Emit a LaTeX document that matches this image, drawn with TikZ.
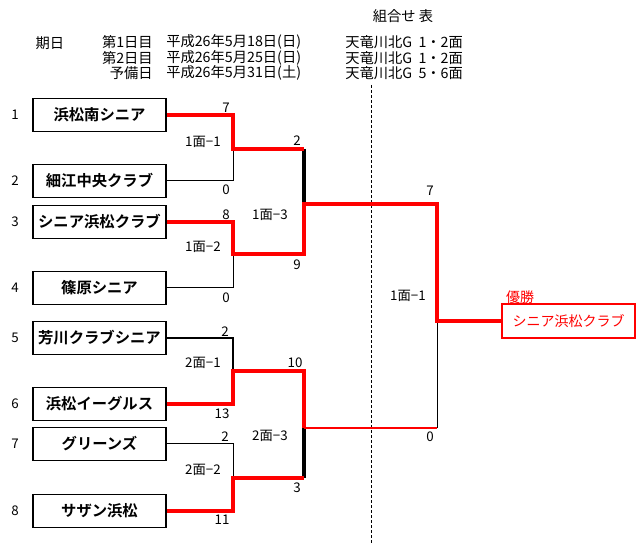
\documentclass[tikz,border=0pt]{standalone}
\usepackage{fontspec}
\setmainfont{Noto Sans CJK JP}[BoldFont={Noto Sans CJK JP Bold}]
\begin{document}
\begin{tikzpicture}[x=0.75pt,y=-0.75pt,
  team/.style={draw=black,line width=1.1pt,minimum width=99.75pt,minimum height=24.75pt,inner sep=0pt,font=\fontsize{11.5}{13}\selectfont\bfseries},
  champ/.style={draw=red,line width=1.1pt,minimum width=99.75pt,minimum height=25.5pt,inner sep=0pt,text=red,font=\fontsize{10.5}{12}\selectfont},
  lbl/.style={inner sep=0pt,font=\fontsize{10}{12}\selectfont},
  hdr/.style={inner sep=0pt,font=\fontsize{10.7}{12}\selectfont},
  win/.style={draw=red,line width=2.3pt},
  thin/.style={draw=black,line width=0.75pt},
  thk/.style={draw=black,line width=2.3pt}
]
\useasboundingbox (0,0) rectangle (636,545);
% header
\node[hdr] (title) at (403,16) {組合せ 表};
\node[hdr] (kijitsu) at (50,43) {期日};
\node[hdr,anchor=east] (d1) at (153,42) {第1日目};
\node[hdr,anchor=east] (d2) at (153,58) {第2日目};
\node[hdr,anchor=east] (d3) at (153,73) {予備日};
\node[hdr,anchor=west] (e1) at (166,42) {平成26年5月18日(日)};
\node[hdr,anchor=west] (e2) at (166,58) {平成26年5月25日(日)};
\node[hdr,anchor=west] (e3) at (166,73) {平成26年5月31日(土)};
\node[hdr,anchor=west] (p1) at (345,42) {天竜川北G\ \ 1・2面};
\node[hdr,anchor=west] (p2) at (345,58) {天竜川北G\ \ 1・2面};
\node[hdr,anchor=west] (p3) at (345,73) {天竜川北G\ \ 5・6面};
% dashed line
\coordinate (dtop) at (371,85);
\coordinate (dbot) at (371,545);
\draw[line width=0.75pt,dash pattern=on 2.25pt off 1.5pt] (dtop) -- (dbot);
% seeds
\foreach \n/\y in {1/115,2/181,3/222,4/288,5/338,6/404,7/444,8/511}
  \node[lbl] (s\n) at (15,\y) {\n};
% teams
\node[team] (t1) at (99.5,115) {浜松南シニア};
\node[team] (t2) at (99.5,181) {細江中央クラブ};
\node[team] (t3) at (99.5,222) {シニア浜松クラブ};
\node[team] (t4) at (99.5,288) {篠原シニア};
\node[team] (t5) at (99.5,338) {芳川クラブシニア};
\node[team] (t6) at (99.5,404) {浜松イーグルス};
\node[team] (t7) at (99.5,444) {グリーンズ};
\node[team] (t8) at (99.5,511) {サザン浜松};
\node[champ] (ch) at (568.5,321) {シニア浜松クラブ};
\node[inner sep=0pt,text=red,font=\fontsize{10.5}{12}\selectfont] (yusho) at (520,297) {優勝};
% junction coordinates
\coordinate (a1) at (233,149);
\coordinate (a2) at (233,254);
\coordinate (a3) at (233,371);
\coordinate (a4) at (233,478);
\coordinate (b1) at (304,149);
\coordinate (b1m) at (304,204);
\coordinate (b2) at (304,254);
\coordinate (b3) at (304,371);
\coordinate (b3m) at (304,428);
\coordinate (b4) at (304,478);
\coordinate (c1) at (437,204);
\coordinate (c2) at (437,428);
\coordinate (cm) at (437,321);
% losers (black)
\draw[thin] (t2.east) -| (a1);
\draw[thin] (t4.east) -| (a2);
\draw[draw=black,line width=1.5pt] (t5.east) -| (a3);
\draw[thin] (t7.east) -| (a4);
\draw[thk] (b1) -- (b1m);
\draw[thk] (b3m) -- (b4);
\draw[thin] (cm) -- (c2);
% winners (red)
\draw[win] (t1.east) -| (a1) -- (b1);
\draw[win] (t3.east) -| (a2) -- (b2) -- (b1m) -- (c1) -- (cm) -- (ch.west);
\draw[win] (t6.east) -| (a3) -- (b3) -- (b3m);
\draw[draw=red,line width=1.5pt] (b3m) -- (c2);
\draw[win] (t8.east) -| (a4) -- (b4);
% scores and match labels
\node[lbl] (k1) at (226,108) {7};
\node[lbl] (m1) at (203,142) {1面−1};
\node[lbl] (k2) at (226,190) {0};
\node[lbl] (k3) at (297,141) {2};
\node[lbl] (k4) at (226,215) {8};
\node[lbl] (m3) at (270,215) {1面−3};
\node[lbl] (m2) at (203,247) {1面−2};
\node[lbl] (k5) at (297,265) {9};
\node[lbl] (k6) at (226,298) {0};
\node[lbl] (k7) at (225,332) {2};
\node[lbl] (m4) at (203,363) {2面−1};
\node[lbl] (k8) at (295,363) {10};
\node[lbl] (k9) at (222,414) {13};
\node[lbl] (m6) at (270,436) {2面−3};
\node[lbl] (k10) at (225,437) {2};
\node[lbl] (m5) at (203,470) {2面−2};
\node[lbl] (k11) at (297,488) {3};
\node[lbl] (k12) at (222,520) {11};
\node[lbl] (k13) at (430,191) {7};
\node[lbl] (m7) at (408,296) {1面−1};
\node[lbl] (k14) at (430,437) {0};
\end{tikzpicture}
\end{document}
